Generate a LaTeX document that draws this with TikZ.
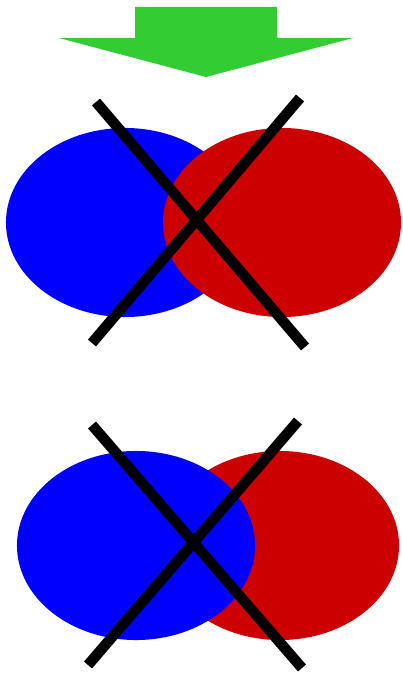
\documentclass[tikz,border=0pt]{standalone}
\usepackage{tikz}
\usetikzlibrary{calc}
\definecolor{arrowgreen}{RGB}{51,204,51}
\definecolor{setred}{RGB}{204,0,0}
\definecolor{setblue}{RGB}{0,0,255}
\begin{document}
\begin{tikzpicture}[x=0.025cm, y=-0.025cm,
   blob/.style={x radius=2.975cm, y radius=2.3625cm},
   crossline/.style={draw=black, line width=7.5pt}]
  \useasboundingbox (0,0) rectangle (402,674);
  % arrow pointing down
  \fill[arrowgreen] (135,7) -- (277,7) -- (277,38) -- (353,38) -- (206,77)
                    -- (59,38) -- (135,38) -- cycle;
  % upper pair: red over blue
  \fill[setblue] (125,222.5) ellipse [blob];
  \fill[setred]  (282,222.5) ellipse [blob];
  \coordinate (uA) at (96,102);  \coordinate (uB) at (305,347);
  \coordinate (uC) at (300,98);  \coordinate (uD) at (92,343);
  \draw[crossline] (uA) -- (uB);
  \draw[crossline] (uC) -- (uD);
  % lower pair: blue over red
  \fill[setred]  (280,545.5) ellipse [blob];
  \fill[setblue] (136,545.5) ellipse [blob];
  \coordinate (lA) at (92,425);  \coordinate (lB) at (302,668);
  \coordinate (lC) at (298,421); \coordinate (lD) at (88,665);
  \draw[crossline] (lA) -- (lB);
  \draw[crossline] (lC) -- (lD);
\end{tikzpicture}
\end{document}
